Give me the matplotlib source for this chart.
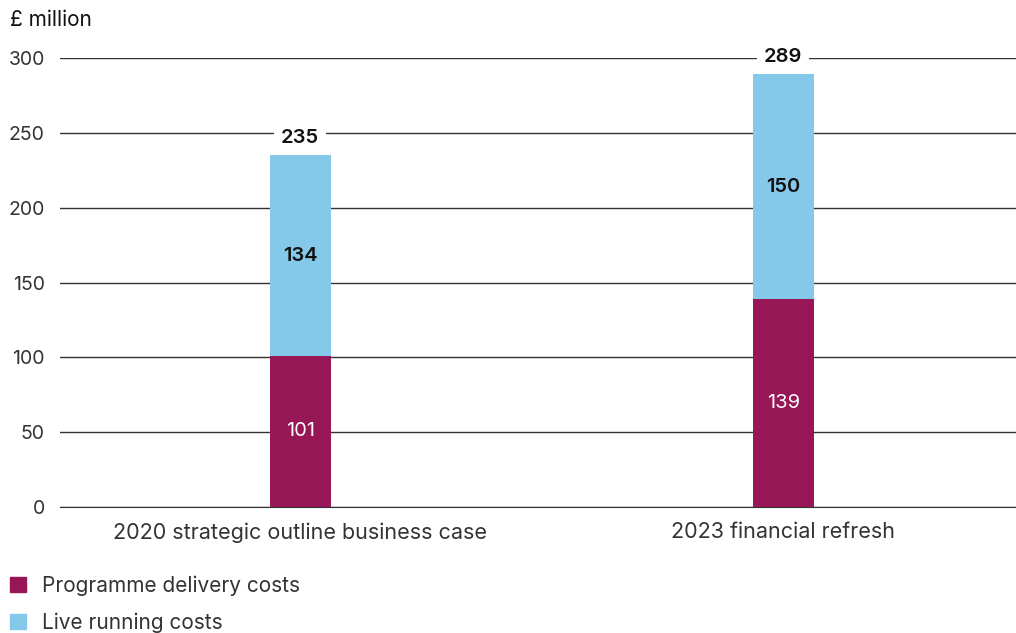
import matplotlib.pyplot as plt
from matplotlib.patches import Patch

plt.rcParams['font.family'] = ['Inter', 'DejaVu Sans']

categories = ['2020 strategic outline business case', '2023 financial refresh']
delivery = [101, 139]
running = [134, 150]
totals = [235, 289]

maroon = '#961656'
blue = '#85C9EA'

fig = plt.figure(figsize=(10.16, 6.33), dpi=100)
ax = fig.add_axes([60 / 1016, 126 / 633, 956 / 1016, 449 / 633])

x = [0, 1]
w = 0.126
ax.bar(x, delivery, width=w, color=maroon, zorder=3)
ax.bar(x, running, width=w, bottom=delivery, color=blue, zorder=3)

fs = 15
for i in range(len(x)):
    ax.text(x[i], delivery[i] / 2, str(delivery[i]), ha='center', va='center',
            color='white', fontsize=fs - 0.5, zorder=4)
    ax.text(x[i], delivery[i] + running[i] / 2, str(running[i]), ha='center',
            va='center', color='#111111', fontsize=fs - 0.5, fontweight='semibold', zorder=4)
    ax.text(x[i], totals[i] + 11.5, str(totals[i]), ha='center', va='center',
            color='#111111', fontsize=fs - 0.5, fontweight='semibold', zorder=2,
            bbox=dict(facecolor='white', edgecolor='none', pad=5), clip_on=False)

ax.set_xlim(-0.497, 1.482)
ax.set_ylim(0, 300)
ax.set_yticks(range(0, 301, 50))
ax.yaxis.grid(True, color='#333333', linewidth=1)
ax.set_axisbelow(True)
for s in ['top', 'right', 'left']:
    ax.spines[s].set_visible(False)
ax.spines['bottom'].set_color('#333333')
ax.set_xticks(x)
ax.set_xticklabels(categories)
ax.tick_params(axis='y', length=0, labelsize=14, labelcolor='#333333', pad=11)
ax.tick_params(axis='x', length=0, labelsize=15.5, labelcolor='#333333', pad=11)

fig.text(10 / 1016, 1 - 20 / 633, '£ million', fontsize=fs, color='#111111',
         va='center', ha='left')

handles = [Patch(color=maroon, label='Programme delivery costs'),
           Patch(color=blue, label='Live running costs')]
fig.legend(handles=handles, loc='upper left', bbox_to_anchor=(-0.002, 1 - 563 / 633),
           frameon=False, fontsize=fs, handlelength=0.75, handleheight=0.75,
           handletextpad=0.75, labelspacing=0.78, labelcolor='#333333',
           borderpad=0.3, borderaxespad=0.3)

fig.savefig('out.png', dpi=100)
